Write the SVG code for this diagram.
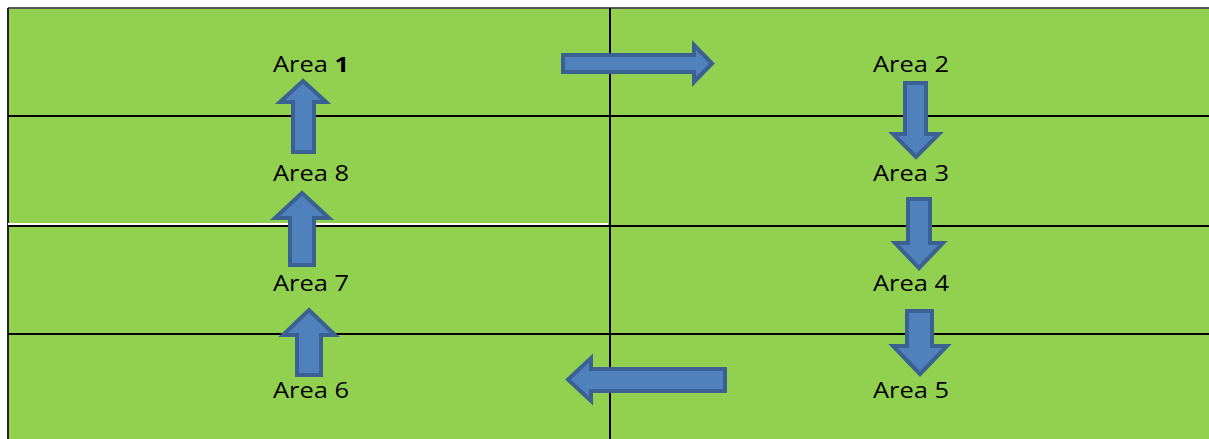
<svg xmlns="http://www.w3.org/2000/svg" width="1209" height="439" viewBox="0 0 1209 439">
<style>
.grid{stroke:#000;stroke-width:2;fill:none}
.arrow{fill:#4F81BD;stroke:#3A6191;stroke-width:4;stroke-linejoin:miter}
.lbl{font-family:"Open Sans","Liberation Sans",Arial,sans-serif;font-size:21px;fill:#000;text-anchor:middle}
</style>
<rect x="0" y="0" width="1209" height="439" fill="#fff"/>
<rect x="8" y="8" width="1201" height="431" fill="#92D050"/>
<g id="grid">
<line x1="8" y1="8" x2="1209" y2="8" stroke="#555" stroke-width="2"/>
<line x1="8" y1="8" x2="8" y2="439" stroke="#222" stroke-width="2"/>
<line class="grid" x1="8" y1="116" x2="1209" y2="116"/>
<line x1="8" y1="224" x2="608" y2="224" stroke="#fff" stroke-width="2"/>
<line class="grid" x1="8" y1="226" x2="1209" y2="226"/>
<line class="grid" x1="8" y1="334" x2="1209" y2="334"/>
<line class="grid" x1="610" y1="8" x2="610" y2="439"/>
</g>
<g id="area1"><text class="lbl" x="311" y="72" textLength="76" lengthAdjust="spacingAndGlyphs">Area <tspan font-weight="bold">1</tspan></text></g>
<g id="area2"><text class="lbl" x="911" y="72" textLength="76" lengthAdjust="spacingAndGlyphs">Area 2</text></g>
<g id="area3"><text class="lbl" x="911" y="181" textLength="76" lengthAdjust="spacingAndGlyphs">Area 3</text></g>
<g id="area4"><text class="lbl" x="911" y="291" textLength="76" lengthAdjust="spacingAndGlyphs">Area 4</text></g>
<g id="area5"><text class="lbl" x="911" y="398" textLength="76" lengthAdjust="spacingAndGlyphs">Area 5</text></g>
<g id="area6"><text class="lbl" x="311" y="398" textLength="76" lengthAdjust="spacingAndGlyphs">Area 6</text></g>
<g id="area7"><text class="lbl" x="311" y="291" textLength="76" lengthAdjust="spacingAndGlyphs">Area 7</text></g>
<g id="area8"><text class="lbl" x="311" y="181" textLength="76" lengthAdjust="spacingAndGlyphs">Area 8</text></g>
<g id="connectors">
<polygon class="arrow" points="563,55 694,55 694,45 712,63.5 694,82 694,72 563,72"/>
<polygon class="arrow" points="905,83 926,83 926,134 939,134 916,157 893,134 905,134"/>
<polygon class="arrow" points="908,199 930,199 930,243 943,243 919,268 895,243 908,243"/>
<polygon class="arrow" points="907,311 932,311 932,346 947,346 920,374 893,346 907,346"/>
<polygon class="arrow" points="725,369 725,391 591,391 591,401 568,379.5 591,358 591,369"/>
<polygon class="arrow" points="297,375 321,375 321,335 335,335 309,310 283,335 297,335"/>
<polygon class="arrow" points="290,265 314,265 314,218 329,218 302,193 275,218 290,218"/>
<polygon class="arrow" points="293,152 314,152 314,102 326,102 303,81 280,102 293,102"/>
</g>
</svg>
